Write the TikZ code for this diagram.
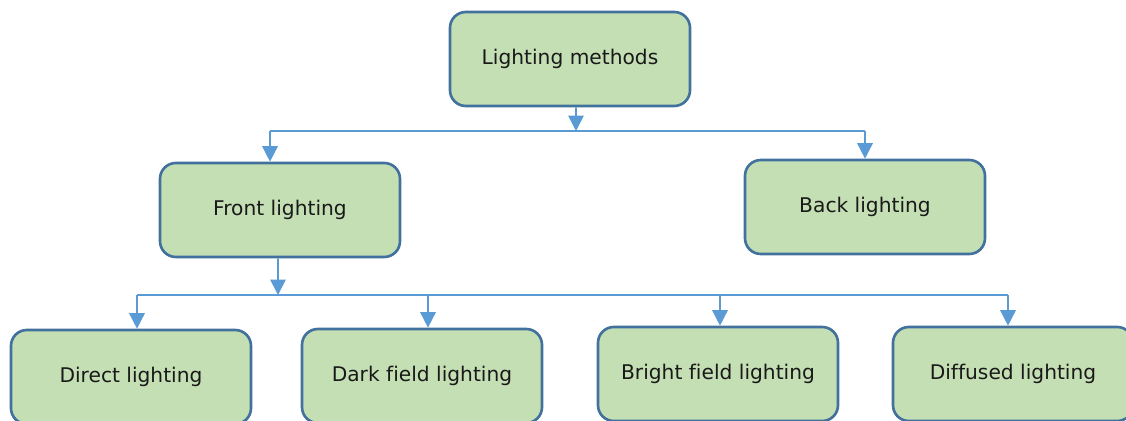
\documentclass[tikz,border=0pt]{standalone}
\usepackage{fontspec}
\setmainfont[Ligatures=NoCommon]{DejaVu Sans}
\usetikzlibrary{arrows.meta,positioning,calc}
\definecolor{boxFill}{HTML}{C5DFB4}
\definecolor{boxEdge}{HTML}{41719C}
\definecolor{linkBlue}{HTML}{5B9BD5}

\begin{document}
\begin{tikzpicture}[
    >={Triangle[length=3.1mm, width=3.1mm]},
    box/.style={draw=boxEdge, fill=boxFill, rounded corners=9pt, line width=1.5pt,
                minimum width=48mm, minimum height=18.8mm, align=center,
                font=\fontsize{11.5}{14}\selectfont, text=black!90},
    link/.style={draw=linkBlue, line width=0.9pt},
    linkto/.style={link, ->},
]
\useasboundingbox (0,0) rectangle (22.52,-8.4);

% root
\node[box] (methods) at (11.4,-1.18) {Lighting methods};

% second level
\node[box] (front) at (5.6,-4.2) {Front lighting};
\node[box] (back) at (17.3,-4.14) {Back lighting};

% third level
\node[box] (direct) at (2.62,-7.54) {Direct lighting};
\node[box] (dark) at (8.44,-7.52) {Dark field lighting};
\node[box] (bright) at (14.36,-7.48) {Bright field lighting};
\node[box] (diffused) at (20.26,-7.48) {Diffused lighting};

% bus under the root
\coordinate (busA) at (11.52,-2.62);
\draw[linkto] ([xshift=1.2mm]methods.south) -- (busA);
\draw[link] ([xshift=-2mm]front.north |- busA) -- (back.north |- busA);
\draw[linkto] ([xshift=-2mm]front.north |- busA) -- ([xshift=-2mm]front.north);
\draw[linkto] (back.north |- busA) -- (back.north);

% bus under front lighting
\coordinate (busB) at (5.56,-5.9);
\draw[linkto] ([xshift=-0.4mm]front.south) -- (busB);
\draw[link] ([xshift=1.2mm]direct.north |- busB) -- ([xshift=-1mm]diffused.north |- busB);
\foreach \n/\s in {direct/1.2mm, dark/1.2mm, bright/0.4mm, diffused/-1mm}
    \draw[linkto] ([xshift=\s]\n.north |- busB) -- ([xshift=\s]\n.north);
\end{tikzpicture}
\end{document}
